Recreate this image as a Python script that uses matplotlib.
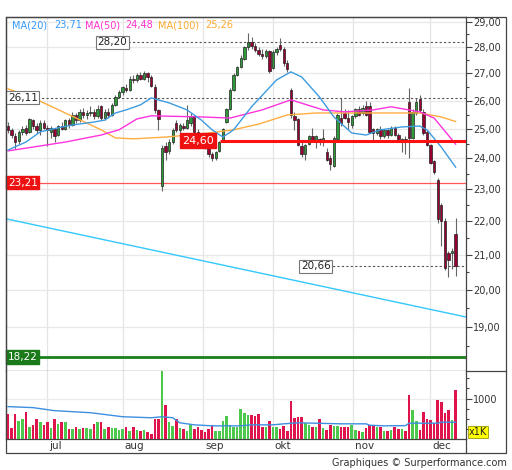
import numpy as np
import matplotlib
matplotlib.use('Agg')
import matplotlib.pyplot as plt
import matplotlib.transforms as mtransforms
from matplotlib.lines import Line2D
from matplotlib.patches import Rectangle
from matplotlib.ticker import FixedLocator, FuncFormatter, NullFormatter

# daily candles, mid june -> early december
opens = [25.10, 24.95, 24.75, 24.60, 24.90, 25.05, 24.90, 25.30, 25.10, 24.95, 25.20,
         25.05, 24.90, 25.00, 24.80, 25.10, 25.00, 25.30, 25.15, 25.50, 25.30, 25.60, 25.50, 25.55, 25.60, 25.45, 25.80, 25.40, 25.60, 25.50, 25.85, 26.15,
         26.30, 26.45, 26.40, 26.80, 26.75, 26.95, 26.80, 27.00, 26.85, 26.50, 25.65, 23.10, 24.40, 24.25, 24.55, 25.20, 24.97, 25.10, 25.05, 25.20, 25.45, 24.90,
         24.75, 24.60, 24.40, 24.15, 24.00, 24.25, 24.60, 25.25, 25.70, 26.40, 26.95, 27.25, 27.55, 28.00, 28.20, 28.05, 27.90, 27.75, 27.65, 27.85,
         27.20, 27.80, 28.10, 27.95, 27.40, 26.40, 25.45, 25.35, 24.40, 24.15, 24.50, 24.75, 24.55, 24.65, 24.60, 24.20, 24.00, 23.75, 24.65, 25.40, 25.55, 25.40, 25.15,
         25.45, 25.70, 25.55, 25.80, 25.80, 25.00, 24.85, 25.00, 24.75, 24.95, 24.80, 25.05, 24.80, 24.60, 24.65, 25.95, 24.70, 25.55, 26.05, 25.60, 24.90,
         24.45, 23.90, 23.30, 22.50, 22.00, 21.05, 21.05, 21.60]
highs = [25.25, 25.05, 24.85, 24.95, 25.10, 25.15, 25.40, 25.35, 25.20, 25.30, 25.30,
         25.15, 25.10, 25.05, 25.15, 25.25, 25.35, 25.40, 25.60, 25.55, 25.70, 25.75, 25.65, 25.80, 25.70, 25.85, 25.85, 25.70, 25.75, 25.90, 26.20, 26.40,
         26.55, 26.60, 26.90, 26.95, 27.00, 27.05, 27.10, 27.05, 26.95, 26.60, 25.70, 24.45, 24.55, 24.65, 25.05, 25.30, 25.20, 25.20, 25.85, 25.55, 25.50, 25.00,
         24.80, 24.65, 24.45, 24.20, 24.25, 24.60, 25.05, 25.75, 26.45, 27.00, 27.30, 27.70, 28.05, 28.55, 28.40, 28.15, 28.00, 27.95, 27.95, 27.90,
         27.90, 28.00, 28.35, 28.00, 27.50, 26.45, 25.60, 25.40, 24.55, 24.50, 24.80, 25.05, 24.80, 24.70, 25.00, 24.35, 24.10, 24.75, 25.55, 26.10, 25.70, 25.65, 25.50,
         25.75, 25.80, 25.85, 26.00, 25.95, 25.05, 25.05, 25.10, 25.00, 25.00, 25.10, 25.10, 24.85, 24.70, 24.75, 26.45, 25.70, 26.10, 26.20, 25.70, 24.95,
         24.50, 23.95, 23.35, 22.55, 22.10, 21.10, 21.20, 22.10]
lows = [24.85, 24.70, 24.30, 24.50, 24.80, 24.80, 24.85, 25.00, 24.85, 24.80, 25.00,
        24.40, 24.70, 24.55, 24.75, 24.95, 24.95, 25.05, 25.10, 25.20, 25.25, 25.40, 25.35, 25.45, 25.35, 25.40, 25.30, 25.30, 25.40, 25.45, 25.80, 26.10,
        26.20, 26.30, 26.35, 26.65, 26.70, 26.75, 26.75, 26.70, 26.50, 25.55, 24.95, 22.95, 23.95, 24.15, 24.50, 24.90, 24.85, 24.95, 25.00, 25.10, 24.85, 24.70,
        24.50, 24.30, 24.05, 23.90, 23.95, 24.20, 24.55, 25.20, 25.65, 26.35, 26.90, 27.20, 27.50, 27.90, 27.95, 27.80, 27.65, 27.55, 27.60, 27.00,
        27.15, 27.70, 27.85, 27.30, 27.05, 25.40, 24.95, 24.40, 24.05, 23.95, 24.45, 24.55, 24.35, 24.45, 24.40, 23.90, 23.60, 23.70, 24.60, 25.10, 25.35, 25.00, 25.05,
        25.40, 25.45, 25.50, 25.45, 24.85, 24.60, 24.80, 24.65, 24.70, 24.70, 24.75, 24.75, 24.55, 24.20, 24.15, 24.00, 24.65, 25.50, 25.60, 24.80, 24.40,
        23.80, 23.50, 21.95, 21.25, 20.55, 20.35, 20.60, 20.40]
closes = [24.95, 24.80, 24.55, 24.90, 25.00, 24.85, 25.35, 25.10, 24.95, 25.20, 25.05,
          24.95, 25.05, 24.75, 25.10, 25.00, 25.30, 25.15, 25.50, 25.30, 25.60, 25.50, 25.55, 25.60, 25.45, 25.70, 25.40, 25.60, 25.50, 25.85, 26.15, 26.30,
          26.50, 26.40, 26.80, 26.75, 26.95, 26.80, 27.00, 26.85, 26.55, 25.65, 25.35, 24.35, 24.20, 24.55, 24.95, 24.97, 25.15, 25.05, 25.30, 25.45, 24.90, 24.75,
          24.60, 24.40, 24.15, 24.00, 24.20, 24.55, 25.00, 25.70, 26.40, 26.95, 27.25, 27.60, 28.00, 28.20, 28.05, 27.90, 27.75, 27.65, 27.85, 27.10,
          27.80, 27.95, 27.95, 27.40, 27.15, 25.50, 25.30, 24.45, 24.15, 24.45, 24.75, 24.60, 24.75, 24.55, 24.70, 23.95, 23.80, 24.70, 25.50, 25.20, 25.40, 25.25, 25.45,
          25.70, 25.50, 25.75, 25.50, 24.90, 24.85, 25.00, 24.75, 24.95, 24.80, 25.05, 24.80, 24.65, 24.65, 24.55, 24.70, 25.60, 25.95, 25.65, 24.85, 24.45,
          23.85, 23.55, 22.05, 22.00, 20.62, 20.85, 21.10, 20.66]

# volume in thousands
volume = [617, 283, 617, 450, 492, 658, 308, 350, 492, 408, 350, 408, 283, 492, 375, 408, 408, 242, 242, 308,
          242, 267, 267, 242, 367, 408, 408, 242, 308, 267, 267, 225, 242, 308, 200, 308, 225, 200, 225, 183,
          125, 492, 492, 1683, 850, 408, 325, 492, 283, 242, 200, 350, 242, 308, 225, 183, 242, 350, 200, 200,
          433, 575, 350, 308, 308, 742, 642, 600, 600, 558, 625, 308, 308, 433, 292, 292, 242, 325, 208, 950,
          517, 542, 533, 392, 350, 308, 292, 492, 267, 225, 350, 325, 325, 308, 308, 308, 350, 225, 200, 183,
          267, 350, 350, 292, 308, 208, 208, 225, 308, 242, 242, 208, 1083, 708, 450, 225, 667, 492, 475, 392,
          958, 908, 642, 725, 475, 1200]

# moving averages (index, value)
ma20_idx = [0, 5, 9, 14, 18, 24, 27, 30, 33, 37, 40, 45, 50, 54, 57, 60, 63, 68, 75, 79, 82, 87, 91, 96, 100, 104, 110, 115, 117, 121, 125]
ma20_val = [24.28, 24.55, 24.90, 25.04, 25.14, 25.24, 25.31, 25.56, 25.67, 25.85, 26.10, 25.92, 25.67, 25.31, 24.97, 24.72,
            24.97, 25.78, 26.76, 27.06, 26.87, 26.13, 25.42, 24.86, 24.79, 24.97, 25.07, 25.10, 24.97, 24.38, 23.71]
ma50_idx = [0, 16, 26, 31, 36, 40, 54, 62, 71, 79, 88, 94, 102, 107, 115, 119, 125]
ma50_val = [24.25, 24.55, 24.79, 24.97, 25.35, 25.46, 25.42, 25.38, 25.67, 26.03, 25.67, 25.60, 25.67, 25.78, 25.60, 25.38, 24.48]
ma100_idx = [0, 7, 16, 26, 30, 35, 44, 54, 63, 70, 78, 86, 95, 115, 121, 125]
ma100_val = [26.43, 26.10, 25.56, 24.97, 24.69, 24.66, 24.72, 24.83, 24.97, 25.17, 25.49, 25.56, 25.56, 25.56, 25.42, 25.26]
volma_idx = [0, 7, 13, 23, 32, 40, 43, 46, 48, 52, 57, 65, 68, 74, 77, 81, 93, 100, 101, 105, 111, 112, 120, 121, 125]
volma_val = [800, 775, 700, 650, 550, 525, 550, 525, 400, 350, 325, 325, 350, 350, 375, 400, 375, 375, 340, 325, 330, 390, 390, 415, 415]

trend_val = [22.07, 19.26]
month_names = ['jul', 'aug', 'sep', 'okt', 'nov', 'dec']
month_start = [10.9, 32.1, 54.5, 74.0, 96.4, 117.9]
price_ticks = [19, 20, 21, 22, 23, 24, 25, 26, 27, 28, 29]

W, H = 512, 470
def fx(px):
    return px / W
def fy(py):
    return 1 - py / H
def fmt(v):
    return ("%.2f" % v).replace('.', ',')

fig = plt.figure(figsize=(W/100, H/100), dpi=100)
ax = fig.add_axes([fx(6), fy(371), fx(466)-fx(6), fy(17)-fy(371)])
axv = fig.add_axes([fx(6), fy(439), fx(466)-fx(6), fy(371)-fy(439)], sharex=ax)

x = np.arange(len(closes))
o = np.array(opens); h = np.array(highs); l = np.array(lows); c = np.array(closes)
up = c >= o
xmin, xmax = -0.56, 127.9

# grid
for m in month_start:
    ax.axvline(m, color='#e4e4e4', lw=0.9, zorder=0)
    axv.axvline(m, color='#e4e4e4', lw=0.9, zorder=0)
for t in price_ticks:
    ax.axhline(t, color='#e8e8e8', lw=0.9, zorder=0)
axv.axhline(1000, color='#ececec', lw=0.9, zorder=0)

# candles
ax.vlines(x, l, h, color='#666666', lw=0.8, zorder=3)
ax.bar(x, np.maximum(np.abs(c-o), 0.03), bottom=np.minimum(o, c), width=0.66,
       color=np.where(up, '#2f9a3a', '#99002f'), edgecolor='#222222', linewidth=0.5, zorder=4)

# moving averages
ax.plot(ma100_idx, ma100_val, color='#ffad40', lw=1.0, zorder=5)
ax.plot(ma50_idx, ma50_val, color='#ff33dd', lw=1.0, zorder=5)
ax.plot(ma20_idx, ma20_val, color='#3d9be0', lw=1.0, zorder=5)

# trend line and levels
ax.plot([xmin, xmax], trend_val, color='#33c8ff', lw=1.0, zorder=2)
ax.hlines(28.20, 33.5, xmax, color='#555555', lw=0.8, linestyles=(0, (2, 2)), zorder=2)
ax.hlines(26.11, xmin, xmax, color='#555555', lw=0.8, linestyles=(0, (2, 2)), zorder=2)
ax.hlines(20.66, 89.4, xmax, color='#555555', lw=0.8, linestyles=(0, (2, 2)), zorder=2)
ax.hlines(24.60, 59.2, xmax, color='#ff1111', lw=2.2, zorder=6)
ax.hlines(23.21, xmin, xmax, color='#ff5555', lw=0.9, zorder=2)
ax.hlines(18.22, xmin, xmax, color='#1a801a', lw=2.0, zorder=2)

tb = mtransforms.blended_transform_factory(ax.transAxes, ax.transData)
white_box = dict(boxstyle='square,pad=0.15', fc='white', ec='#777777', lw=0.8)
ax.text(25.0, 28.20, fmt(28.20), ha='left', va='center', fontsize=7.5, color='#222222', bbox=white_box, zorder=8)
ax.text(0.004, 26.11, fmt(26.11), transform=tb, ha='left', va='center', fontsize=7.5, color='#222222', bbox=white_box, zorder=8)
ax.text(81.8, 20.66, fmt(20.66), ha='left', va='center', fontsize=7.5, color='#222222', bbox=white_box, zorder=8)
ax.text(48.6, 24.60, fmt(24.60), ha='left', va='center', fontsize=8, color='white',
        bbox=dict(boxstyle='square,pad=0.2', fc='#ee1111', ec='#ee1111'), zorder=8)
ax.text(0.004, 23.21, fmt(23.21), transform=tb, ha='left', va='center', fontsize=7.5, color='white',
        bbox=dict(boxstyle='square,pad=0.15', fc='#ee1111', ec='#ee1111'), zorder=8)
ax.text(0.004, 18.22, fmt(18.22), transform=tb, ha='left', va='center', fontsize=7.5, color='white',
        bbox=dict(boxstyle='square,pad=0.15', fc='#1a7a1a', ec='#1a7a1a'), zorder=8)

# legend line at the top
legend = [(12, 'MA(20)', '#3399ff'), (54, fmt(ma20_val[-1]), '#3399ff'),
          (85, 'MA(50)', '#ff33cc'), (125, fmt(ma50_val[-1]), '#ff33cc'),
          (158, 'MA(100)', '#ffaa33'), (205, fmt(ma100_val[-1]), '#ffaa33')]
for px, s, col in legend:
    ax.text((px-6)/460, (371-25)/354, s, transform=ax.transAxes, ha='left', va='center',
            fontsize=7, color=col, zorder=9)

ax.set_yscale('log')
ax.set_ylim(17.87, 29.2)
ax.set_xlim(xmin, xmax)
ax.yaxis.set_major_locator(FixedLocator(price_ticks))
ax.yaxis.set_major_formatter(FuncFormatter(lambda v, p: fmt(v)))
ax.yaxis.set_minor_locator(FixedLocator([t + 0.5 for t in range(18, 29)]))
ax.yaxis.set_minor_formatter(NullFormatter())

# volume
axv.bar(x, volume, width=0.72, color=np.where(up, '#4cc94c', '#e0144c'), zorder=3)
axv.plot(volma_idx, volma_val, color='#3d8fe0', lw=1.0, zorder=4)
axv.set_ylim(0, 1680)
axv.yaxis.set_major_locator(FixedLocator([1000]))
axv.yaxis.set_minor_locator(FixedLocator([250, 500, 750, 1250, 1500]))
axv.yaxis.set_minor_formatter(NullFormatter())
axv.text(1.006, 0.105, 'x1K', transform=axv.transAxes, ha='left', va='center', fontsize=7,
         color='#222222', bbox=dict(boxstyle='square,pad=0.1', fc='#ffff00', ec='#999900', lw=0.6))

tv = mtransforms.blended_transform_factory(axv.transData, axv.transAxes)
for m, name in zip(month_start, month_names):
    axv.text(m + 0.5, -0.105, name, transform=tv, ha='left', va='center', fontsize=7.5, color='#333333')

for a in (ax, axv):
    a.tick_params(axis='x', bottom=False, labelbottom=False)
    a.tick_params(axis='y', which='both', left=False, labelleft=False, right=True, labelright=True,
                  color='#444444', width=0.8, labelsize=7, labelcolor='#333333', pad=1)
    a.tick_params(axis='y', which='major', length=4)
    a.tick_params(axis='y', which='minor', length=2.5)
    for s in a.spines.values():
        s.set_color('#444444')
        s.set_linewidth(0.9)
axv.spines['top'].set_visible(False)

# outer frame and the date strip
fig.add_artist(Rectangle((fx(6), fy(453)), fx(506)-fx(6), fy(17)-fy(453), transform=fig.transFigure,
                         fill=False, ec='#444444', lw=0.9))
fig.add_artist(Line2D([fx(466), fx(466)], [fy(439), fy(453)], transform=fig.transFigure, color='#444444', lw=0.9))
fig.add_artist(Line2D([fx(466), fx(506)], [fy(371), fy(371)], transform=fig.transFigure, color='#444444', lw=0.9))

fig.text(fx(507), fy(463), 'Graphiques © Surperformance.com', ha='right', va='center', fontsize=7, color='#333333')

fig.savefig('out.png', dpi=100)
